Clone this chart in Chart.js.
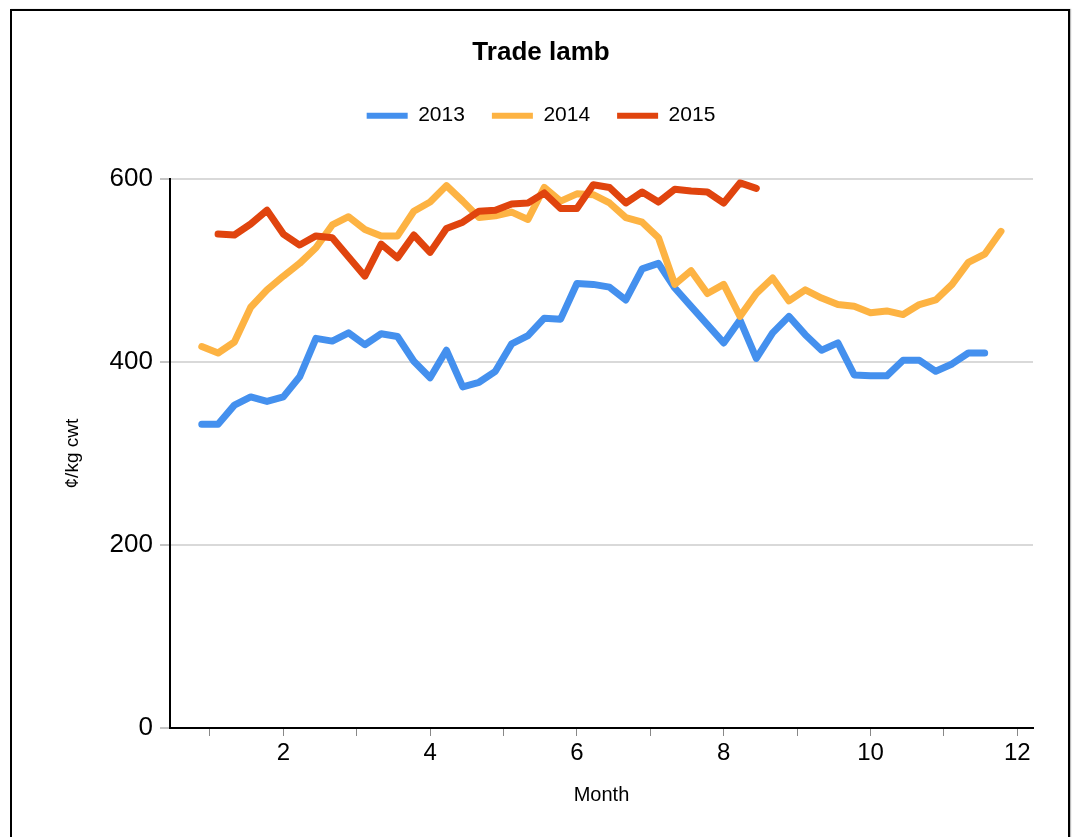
<!DOCTYPE html>
<html>
<head>
<meta charset="utf-8">
<script src="https://cdn.jsdelivr.net/npm/chart.js@4/dist/chart.umd.min.js"></script>
<style>
  html, body { margin: 0; padding: 0; background: #fff; overflow: hidden; }
  #wrap { position: relative; width: 1075px; height: 837px; }
  #c { position: absolute; left: 0; top: 0; }
  #frame { position: absolute; left: 10px; top: 9px; width: 1060px; height: 900px;
           border: 2px solid #000; box-sizing: border-box; pointer-events: none;
           box-shadow: 1px 0 1px #bbb; }
</style>
</head>
<body>
<div id="wrap">
  <canvas id="c" width="1075" height="837"></canvas>
  <div id="frame"></div>
</div>
<script>
// Week numbers (x position in months = week / 4.5)
const weeks = [4,5,6,7,8,9,10,11,12,13,14,15,16,17,18,19,20,21,22,23,24,25,26,27,28,
               29,30,31,32,33,34,35,36,37,38,39,40,41,42,43,44,45,46,47,48,49,50,51,52,53];
const weeksPerMonth = 4.5;

const seriesNames = ['2013', '2014', '2015'];

const values2013 = [332,332,353,362,357,362,384,426,423,432,419,431,428,401,383,413,373,378,390,420,
                    429,448,447,486,485,482,468,502,508,481,461,441,421,446,404,432,450,430,413,421,
                    386,385,385,402,402,390,398,410,410];
const start2013 = 4;

const values2014 = [417,410,422,460,479,494,508,525,550,559,545,538,538,565,575,593,576,558,560,564,
                    556,591,576,584,583,574,558,553,536,485,500,475,485,450,475,492,467,479,470,463,
                    461,454,456,452,463,468,485,509,518,543];
const start2014 = 4;

const values2015 = [540,539,551,566,540,528,538,536,515,494,529,514,539,520,546,553,565,566,573,574,
                    585,568,568,594,591,574,586,575,589,587,586,574,596,590];
const start2015 = 5;

const yTicks = [0, 200, 400, 600];
const xTickLabels = ['2', '4', '6', '8', '10', '12'];

const colors = ['#4490EE', '#FDB343', '#E0440E'];

function toPoints(values, startWeek) {
  const i0 = weeks.indexOf(startWeek);
  return values.map((v, i) => ({ x: weeks[i0 + i] / weeksPerMonth, y: v }));
}

const allValues = [values2013, values2014, values2015];
const starts = [start2013, start2014, start2015];

const datasets = seriesNames.map((name, i) => ({
  label: name,
  data: toPoints(allValues[i], starts[i]),
  borderColor: colors[i],
  backgroundColor: colors[i],
  borderWidth: 7,
  pointRadius: 0,
  tension: 0,
  fill: false,
  borderCapStyle: 'round',
  borderJoinStyle: 'round',
  order: 3 - i
}));

const FONT = '"Liberation Sans", Arial, sans-serif';

new Chart(document.getElementById('c'), {
  type: 'line',
  data: { datasets },
  options: {
    responsive: false,
    animation: false,
    devicePixelRatio: 1,
    layout: { padding: { left: 49, right: 42, top: 0, bottom: 0 } },
    plugins: {
      tooltip: { enabled: false },
      title: {
        display: true,
        text: 'Trade lamb',
        color: '#000',
        font: { family: FONT, size: 26, weight: 'bold' },
        padding: { top: 37, bottom: 10 }
      },
      legend: {
        display: true,
        position: 'top',
        labels: {
          color: '#000',
          font: { family: FONT, size: 21 },
          usePointStyle: true,
          pointStyleWidth: 41,
          padding: 27,
          generateLabels: (chart) => chart.data.datasets.map((ds, i) => ({
            text: ds.label,
            fillStyle: ds.borderColor,
            strokeStyle: ds.borderColor,
            lineWidth: 6,
            lineCap: 'butt',
            pointStyle: 'line',
            hidden: false,
            datasetIndex: i,
            fontColor: '#000'
          }))
        }
      },
      subtitle: {
        display: true,
        text: ' ',
        weight: 500,
        font: { family: FONT, size: 10 },
        padding: { top: 0, bottom: 31 }
      }
    },
    scales: {
      x: {
        type: 'linear',
        min: 0.456,
        max: 12.214,
        afterFit: (s) => { s.height = 109; },
        border: { display: true, color: '#000', width: 2 },
        grid: { display: true, drawOnChartArea: false, drawTicks: true, tickLength: 8, color: '#888', lineWidth: 1 },
        ticks: {
          stepSize: 1,
          includeBounds: false,
          autoSkip: false,
          maxRotation: 0,
          padding: 3,
          color: '#000',
          font: { family: FONT, size: 24 },
          callback: (v) => { const s = String(v); return xTickLabels.includes(s) ? s : ''; }
        },
        title: {
          display: true,
          text: 'Month',
          color: '#000',
          font: { family: FONT, size: 20 },
          padding: { top: 0, bottom: 30 }
        }
      },
      y: {
        type: 'linear',
        min: yTicks[0],
        max: yTicks[yTicks.length - 1],
        afterFit: (s) => { s.width = 121; },
        afterBuildTicks: (s) => { s.ticks = yTicks.map(v => ({ value: v })); },
        border: { display: true, color: '#000', width: 2 },
        grid: { color: '#d9d9d9', lineWidth: 2, tickLength: 10, tickColor: '#888', tickWidth: 1 },
        ticks: {
          padding: 7,
          color: '#000',
          font: { family: FONT, size: 26 }
        },
        title: {
          display: true,
          text: '¢/kg cwt',
          color: '#000',
          font: { family: FONT, size: 19 },
          padding: { top: 12, bottom: 0 }
        }
      }
    }
  }
});
</script>
</body>
</html>
